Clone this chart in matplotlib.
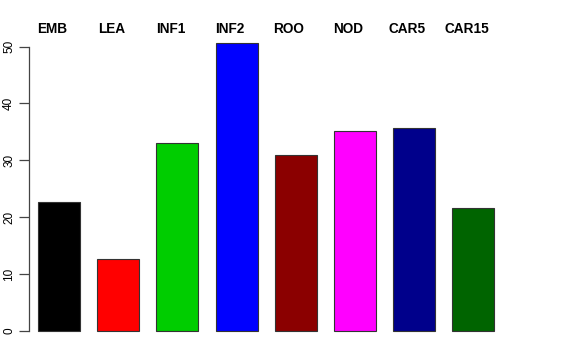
import numpy as np
import matplotlib.pyplot as plt

plt.rcParams['font.family'] = ['Liberation Sans', 'DejaVu Sans']

labels = ["EMB", "LEA", "INF1", "INF2", "ROO", "NOD", "CAR5", "CAR15"]
values = [22.7, 12.7, 33.1, 50.7, 31.0, 35.2, 35.7, 21.7]
colors = ["#000000", "#FF0000", "#00CD00", "#0000FF",
          "#8B0000", "#FF00FF", "#00008B", "#006400"]
yticks = [0, 10, 20, 30, 40, 50]

W, H = 576, 360
fig = plt.figure(figsize=(W / 100, H / 100), dpi=100)

# plot region in pixels (R-style margins)
left_px, right_px = 29, 512
top_px, bottom_px = 31, 342.5
ax = fig.add_axes([left_px / W, 1 - bottom_px / H,
                   (right_px - left_px) / W, (bottom_px - top_px) / H])

pitch = 59.2
x = np.arange(len(labels))
ax.bar(x, values, width=42 / pitch, color=colors,
       edgecolor="#333333", linewidth=0.8)

ax.set_xlim(-30 / pitch, (right_px - 59) / pitch)
ymax = max(values)
ax.set_ylim(-0.04 * ymax, 1.04 * ymax)

for s in ["top", "right", "bottom"]:
    ax.spines[s].set_visible(False)
ax.spines["left"].set_bounds(0, 50)
ax.spines["left"].set_color("#444444")
ax.spines["left"].set_linewidth(0.9)
ax.set_xticks([])
ax.set_yticks(yticks)
ax.set_yticklabels([str(t) for t in yticks], rotation=90, va="center",
                   fontsize=8.5)
ax.tick_params(axis="y", length=7, width=0.9, color="#444444", pad=3)

# labels sit just above the plot region
label_y = 1 - 29 / H
for xi, lab in zip(x, labels):
    xf = fig.transFigure.inverted().transform(
        ax.transData.transform((xi - 7 / pitch, 0)))[0]
    fig.text(xf, label_y, lab, ha="center", va="center",
             fontsize=9.8, fontweight="bold")

fig.savefig("out.png", dpi=100)
